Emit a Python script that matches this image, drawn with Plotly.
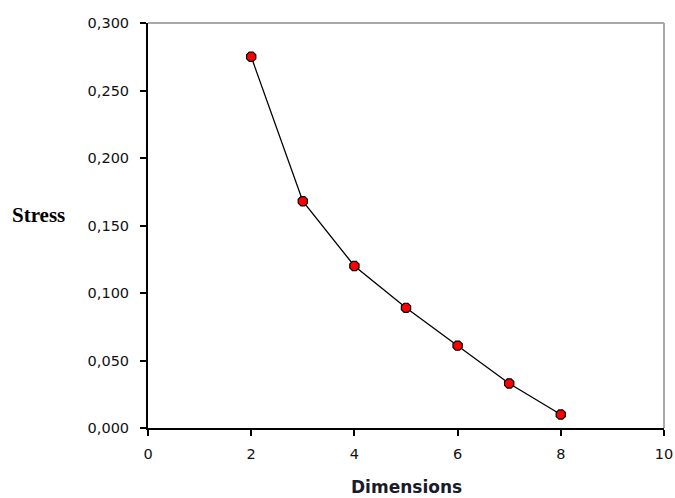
import plotly.graph_objects as go

dimensions = [2, 3, 4, 5, 6, 7, 8]
stress = [0.275, 0.168, 0.120, 0.089, 0.061, 0.033, 0.010]

x_ticks = [0, 2, 4, 6, 8, 10]
y_ticks = [0.0, 0.05, 0.10, 0.15, 0.20, 0.25, 0.30]

fig = go.Figure()
fig.add_trace(go.Scatter(
    x=dimensions, y=stress, mode="lines+markers",
    line=dict(color="black", width=1.3),
    marker=dict(symbol="octagon", size=10, color="#ff0000",
                line=dict(color="black", width=1.2)),
    showlegend=False, cliponaxis=False,
))

tick_font = dict(family="DejaVu Sans", size=14.5, color="#111111")

fig.update_layout(
    width=675, height=498,
    margin=dict(l=148, r=11, t=23, b=70, autoexpand=False),
    paper_bgcolor="white", plot_bgcolor="white",
    separators=", ",
    xaxis=dict(range=[0, 10], tickvals=x_ticks, showgrid=False, zeroline=False,
               showline=True, linecolor="black", linewidth=2, automargin=False,
               ticks="outside", ticklen=6, tickwidth=2, tickcolor="black",
               tickfont=tick_font, ticklabelstandoff=6),
    yaxis=dict(range=[0, 0.3], tickvals=y_ticks, tickformat=".3f", showgrid=False,
               zeroline=False, showline=True, linecolor="black", linewidth=2,
               automargin=False,
               ticks="outside", ticklen=6, tickwidth=2, tickcolor="black",
               tickfont=tick_font, ticklabelstandoff=8),
    shapes=[
        dict(type="line", xref="paper", yref="paper", x0=0, x1=1, y0=1, y1=1,
             line=dict(color="#a8a8a8", width=2)),
        dict(type="line", xref="paper", yref="paper", x0=1, x1=1, y0=0, y1=1,
             line=dict(color="#a8a8a8", width=2)),
    ],
    annotations=[
        dict(text="<b>Stress</b>", xref="paper", yref="paper", x=-0.213, y=0.526,
             xanchor="center", yanchor="middle", showarrow=False,
             font=dict(family="Liberation Serif", size=21, color="black")),
        dict(text="<b>Dimensions</b>", xref="paper", yref="paper", x=0.5, y=-0.146,
             xanchor="center", yanchor="middle", showarrow=False,
             font=dict(family="DejaVu Sans", size=17, color="#1a1a2a")),
    ],
)

fig.write_html("out.html", config={"displayModeBar": False},
               post_script="document.body.style.margin='0';document.body.style.overflow='hidden';")
